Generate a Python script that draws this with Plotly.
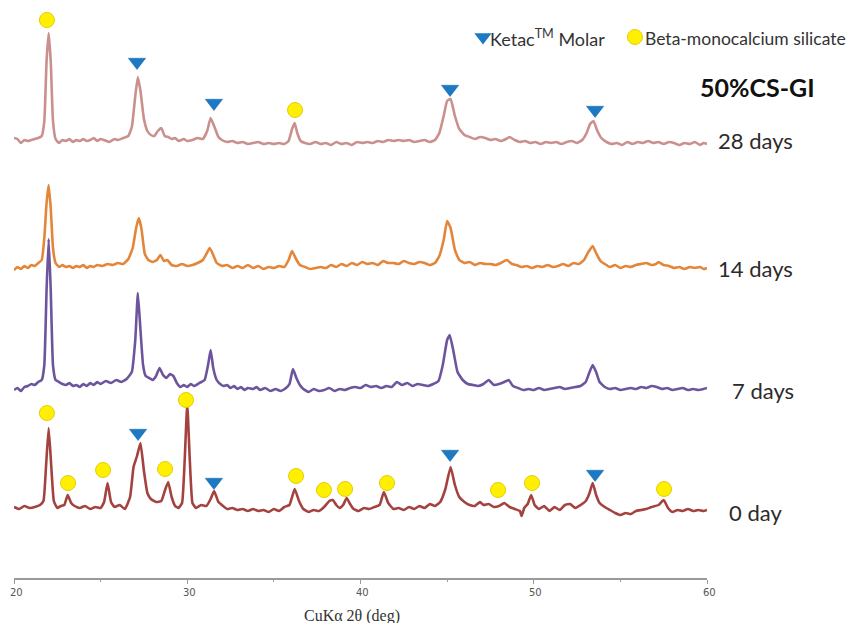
import plotly.graph_objects as go

# ---------------- data (2-theta in degrees, intensity in arbitrary units) ----------------
day0_x = [20.0, 20.3, 20.6, 20.9, 21.2, 21.5, 21.7, 21.85, 22.0, 22.15, 22.3, 22.5, 22.7, 22.9, 23.1, 23.3, 23.5, 23.8,
          24.1, 24.4, 24.7, 25.0, 25.2, 25.4, 25.6, 25.8, 26.1, 26.4, 26.7, 26.9, 27.1, 27.3, 27.5, 27.7, 27.9, 28.2,
          28.5, 28.7, 28.9, 29.1, 29.3, 29.5, 29.7, 29.85, 30.0, 30.15, 30.3, 30.5, 30.8, 31.1, 31.35, 31.55, 31.8,
          32.0, 32.3, 32.6, 32.9, 33.2, 33.5, 33.8, 34.1, 34.4, 34.7, 35.0, 35.3, 35.6, 35.9, 36.2, 36.45, 36.7, 37.0,
          37.3, 37.6, 37.9, 38.2, 38.4, 38.6, 38.8, 39.0, 39.2, 39.4, 39.6, 39.9, 40.2, 40.5, 40.8, 41.1, 41.35, 41.6,
          41.9, 42.2, 42.5, 42.8, 43.1, 43.4, 43.7, 44.0, 44.3, 44.6, 44.9, 45.2, 45.45, 45.7, 46.0, 46.3, 46.6, 46.9,
          47.1, 47.4, 47.7, 48.0, 48.3, 48.6, 48.9, 49.2, 49.3, 49.45, 49.65, 49.85, 50.05, 50.3, 50.6, 50.9, 51.2,
          51.5, 51.8, 52.1, 52.4, 52.7, 53.0, 53.2, 53.4, 53.6, 53.8, 54.1, 54.4, 54.7, 55.0, 55.3, 55.6, 55.9, 56.2,
          56.5, 56.8, 57.2, 57.5, 57.75, 58.0, 58.3, 58.6, 58.9, 59.2, 59.5, 59.8, 60.0]
day0_y = [4, 2, 5, 3, 4, 6, 10, 45, 83, 45, 10, 3, 5, 6, 16, 8, 5, 3,
          5, 2, 4, 3, 9, 28, 9, 4, 6, 2, 14, 44, 55, 68, 40, 18, 12, 9,
          10, 20, 29, 14, 5, 3, 8, 50, 107, 50, 8, 3, 6, 5, 12, 20, 9,
          6, 2, 3, 1, 2, 0, 2, 0, 1, -1, 2, 0, 4, 6, 22, 10, 2, -1,
          1, 0, 4, 10, 11, 6, 3, 6, 13, 7, 2, 0, 3, 2, 4, 6, 19, 8,
          2, 3, 1, 4, 2, 5, 3, 7, 5, 9, 22, 44, 26, 14, 9, 6, 5, 9,
          6, 7, 4, 5, 8, 4, 2, 0, -5, 3, 7, 16, 6, 2, 5, 0, 4,
          1, 6, 7, 3, 6, 10, 17, 28, 16, 8, 4, 1, -2, -4, -2, -3, 0, 1,
          2, 4, 6, 11, 3, -1, 1, 0, 2, 0, 1, 0, 1]

day7_x = [20.0, 20.2, 20.4, 20.6, 20.8, 21.0, 21.2, 21.4, 21.6, 21.75, 21.88, 22.0, 22.12, 22.25, 22.4, 22.6, 22.8,
          23.0, 23.2, 23.4, 23.6, 23.8, 24.0, 24.2, 24.4, 24.6, 24.8, 25.0, 25.3, 25.6, 25.9, 26.2, 26.5, 26.8, 27.0,
          27.15, 27.3, 27.45, 27.6, 27.8, 28.0, 28.2, 28.4, 28.6, 28.8, 29.0, 29.2, 29.4, 29.6, 29.8, 30.0, 30.2,
          30.4, 30.7, 31.0, 31.2, 31.35, 31.5, 31.7, 31.9, 32.1, 32.3, 32.5, 32.7, 32.9, 33.1, 33.3, 33.5, 33.8, 34.0,
          34.2, 34.5, 34.8, 35.1, 35.4, 35.7, 35.9, 36.1, 36.3, 36.5, 36.7, 37.0, 37.3, 37.6, 37.9, 38.2, 38.5, 38.8,
          39.1, 39.4, 39.7, 40.0, 40.3, 40.6, 40.9, 41.2, 41.5, 41.8, 42.1, 42.4, 42.7, 43.0, 43.3, 43.6, 43.9, 44.2,
          44.5, 44.75, 45.0, 45.15, 45.35, 45.6, 45.9, 46.2, 46.5, 46.8, 47.1, 47.4, 47.7, 48.0, 48.3, 48.55, 48.8,
          49.1, 49.4, 49.7, 50.0, 50.3, 50.6, 50.9, 51.2, 51.5, 51.8, 52.1, 52.4, 52.7, 53.0, 53.2, 53.4, 53.6, 53.8,
          54.1, 54.4, 54.7, 55.0, 55.3, 55.6, 55.9, 56.2, 56.5, 56.8, 57.1, 57.4, 57.7, 58.0, 58.3, 58.6, 58.9, 59.2,
          59.5, 59.8, 60.0]
day7_y = [0, 2, -1, 3, 4, 6, 5, 8, 10, 25, 100, 151, 100, 25, 10, 8, 6,
          5, 7, 4, 5, 3, 6, 4, 7, 5, 8, 6, 9, 7, 10, 8, 11, 18, 50,
          97, 60, 25, 14, 12, 10, 14, 22, 15, 12, 16, 14, 7, 3, 5, 3, 6,
          4, 7, 10, 25, 40, 22, 10, 6, 4, 5, 2, 4, 1, 3, 0, 2, 1, 3,
          0, 2, -1, 1, -1, 2, 6, 21, 12, 5, 1, -2, 1, -1, 0, 2, -1, 1,
          0, 2, 3, 2, 5, 3, 4, 2, 4, 3, 8, 5, 7, 4, 6, 5, 4, 6,
          9, 25, 50, 55, 40, 18, 10, 6, 5, 4, 6, 10, 5, 6, 8, 10, 4,
          2, 0, 1, 0, 2, 0, 1, 2, 3, 1, 2, 3, 4, 8, 17, 25, 18, 8,
          3, 1, 2, 0, 1, 2, 1, 3, 2, 4, 3, 1, 2, 0, 1, 2, 0, 1,
          0, 1, 2]

day14_x = [20.0, 20.2, 20.4, 20.6, 20.8, 21.0, 21.2, 21.4, 21.6, 21.75, 21.88, 22.0, 22.12, 22.25, 22.4, 22.6, 22.8,
           23.0, 23.2, 23.4, 23.6, 23.8, 24.0, 24.2, 24.4, 24.6, 24.8, 25.1, 25.4, 25.7, 26.0, 26.3, 26.6, 26.85,
           27.05, 27.2, 27.35, 27.55, 27.75, 28.0, 28.25, 28.45, 28.65, 28.85, 29.1, 29.4, 29.7, 30.0, 30.3, 30.6,
           30.9, 31.1, 31.3, 31.5, 31.7, 32.0, 32.3, 32.6, 32.9, 33.2, 33.5, 33.8, 34.1, 34.4, 34.7, 35.0, 35.3, 35.6,
           35.85, 36.05, 36.25, 36.5, 36.8, 37.1, 37.4, 37.7, 38.0, 38.3, 38.6, 38.9, 39.2, 39.5, 39.8, 40.1, 40.4,
           40.7, 41.0, 41.3, 41.6, 41.9, 42.2, 42.5, 42.8, 43.1, 43.4, 43.7, 44.0, 44.3, 44.55, 44.8, 45.0, 45.2,
           45.45, 45.7, 46.0, 46.3, 46.6, 46.9, 47.2, 47.5, 47.8, 48.1, 48.45, 48.75, 49.0, 49.3, 49.6, 49.9, 50.2,
           50.5, 50.8, 51.1, 51.4, 51.7, 52.0, 52.3, 52.6, 52.9, 53.15, 53.4, 53.6, 53.85, 54.1, 54.4, 54.7, 55.0,
           55.3, 55.6, 55.9, 56.2, 56.5, 56.8, 57.05, 57.2, 57.5, 57.8, 58.1, 58.4, 58.7, 59.0, 59.3, 59.6, 59.8, 60.0]
day14_y = [-2, 1, -1, 2, 0, 3, 2, 5, 8, 30, 65, 83, 60, 20, 5, 1, 3,
           1, 2, 0, 2, 1, 3, 0, 2, 1, 3, 2, 4, 3, 5, 4, 9, 20,
           40, 50, 40, 14, 8, 6, 8, 13, 7, 8, 3, 2, 4, 2, 3, 5,
           8, 14, 20, 13, 5, 2, 3, 0, 2, 0, 3, 0, 2, -1, 1, 0, 2, 1,
           8, 17, 10, 3, 1, -1, 0, 1, 0, 3, 1, 4, 2, 5, 3, 6, 4,
           5, 3, 7, 5, 5, 4, 7, 5, 4, 6, 5, 3, 5, 12, 28, 47, 40,
           18, 8, 5, 6, 3, 5, 4, 4, 3, 5, 8, 4, 3, 1, 2, 0, 2,
           1, 3, 1, 2, 4, 2, 5, 4, 8, 16, 22, 15, 7, 4, 1, 3, 0,
           2, 1, 3, 4, 5, 3, 4, 6, 3, 2, 0, 1, -1, 1, 0, 1, -1, 0]

day28_x = [20.0, 20.2, 20.4, 20.6, 20.8, 21.0, 21.2, 21.4, 21.6, 21.75, 21.88, 22.0, 22.12, 22.25, 22.4, 22.6, 22.8,
           23.0, 23.2, 23.4, 23.6, 23.8, 24.0, 24.2, 24.4, 24.6, 24.8, 25.0, 25.2, 25.5, 25.8, 26.0, 26.3, 26.6, 26.8,
           27.0, 27.15, 27.3, 27.5, 27.7, 27.9, 28.1, 28.3, 28.5, 28.7, 28.9, 29.1, 29.3, 29.5, 29.8, 30.0, 30.3,
           30.6, 30.9, 31.15, 31.35, 31.55, 31.8, 32.0, 32.3, 32.6, 32.9, 33.2, 33.5, 33.8, 34.1, 34.4, 34.7, 35.0,
           35.3, 35.6, 35.85, 36.05, 36.2, 36.35, 36.55, 36.8, 37.1, 37.4, 37.7, 38.0, 38.3, 38.6, 38.9, 39.2, 39.5,
           39.8, 40.1, 40.4, 40.7, 41.0, 41.3, 41.6, 41.9, 42.2, 42.5, 42.8, 43.1, 43.4, 43.7, 44.0, 44.3, 44.55,
           44.8, 45.0, 45.2, 45.45, 45.7, 46.0, 46.3, 46.6, 46.9, 47.2, 47.5, 47.8, 48.1, 48.4, 48.6, 48.9, 49.2,
           49.5, 49.8, 50.1, 50.4, 50.7, 51.0, 51.3, 51.6, 51.9, 52.2, 52.5, 52.8, 53.05, 53.25, 53.45, 53.65, 53.9,
           54.2, 54.5, 54.8, 55.1, 55.4, 55.7, 56.0, 56.3, 56.6, 56.9, 57.2, 57.5, 57.8, 58.1, 58.4, 58.7, 59.0, 59.3,
           59.6, 59.8, 60.0]
day28_y = [3, 2, -2, 1, 0, 1, 2, 3, 5, 20, 80, 108, 80, 20, 2, -2, 1,
           0, 2, -1, 1, 0, 2, 0, 1, 3, 0, 2, 1, -1, 2, 1, 3, 5, 14,
           45, 64, 50, 22, 10, 6, 5, 10, 13, 5, 4, 2, 3, 0, 2, 0, 1,
           3, 2, 10, 23, 15, 4, 1, -1, 0, -2, -1, -3, -2, -1, -3, -2, -3,
           -2, -3, 0, 12, 18, 8, 0, -2, -3, -1, -3, -2, -4, -1, -3, -2, -4,
           -1, -2, -1, -2, 0, -1, 1, 0, 1, 0, 1, -1, 0, 1, -1, 1, 8,
           25, 40, 42, 25, 12, 6, 4, 2, 4, 3, 1, 2, 0, 2, 4, 1, -1,
           0, -2, -1, -3, -1, -2, -1, -3, -1, 0, -2, 1, 8, 17, 20, 11, 3,
           -1, -3, -2, -4, -1, -3, -1, -2, 0, -2, -1, -3, -1, -2, -4, -2, -3, -1,
           -4, -2, -3]

series_names = ["0 day", "7 days", "14 days", "28 days"]
series_offsets = [67, 188, 310, 437]

# phase identification marks (2-theta, stacked height)
ketac_x = [27.16, 31.54, 45.17, 53.54, 27.10, 31.54, 45.17, 53.54]
ketac_y = [145, 96, 124, 104, 516, 475, 489, 468]
beta_x = [21.90, 23.12, 25.14, 28.72, 29.93, 36.28, 37.89, 39.11, 41.53, 47.94, 49.90, 57.52, 21.90, 36.22]
beta_y = [165, 95, 108, 109, 178, 102, 88, 89, 95, 88, 95, 89, 558, 468]

x_ticks = [20, 30, 40, 50, 60]
x_tick_labels = ["20", "30", "40", "50", "60"]

# ---------------- figure ----------------
# The page body has an 8px margin, so the figure is 848x615 and sits at (8, 8).
W, H = 848, 615
PL, PR, PT, PB = 6, 149, 0, 45          # plot area: x 6..699, y 0..570 (figure px)
PLOT_W, PLOT_H = W - PL - PR, H - PT - PB

colors = ["#A4423F", "#6D559E", "#E4863A", "#C9908D"]
xs = [day0_x, day7_x, day14_x, day28_x]
ys = [day0_y, day7_y, day14_y, day28_y]

fig = go.Figure()
for name, x, y, off, c in zip(series_names, xs, ys, series_offsets, colors):
    fig.add_trace(go.Scatter(x=x, y=[v + off for v in y], mode="lines", name=name,
                             line=dict(color=c, width=2.6, shape="spline", smoothing=0.4),
                             hoverinfo="skip"))

fig.add_trace(go.Scatter(x=ketac_x, y=ketac_y, mode="markers", name="Ketac Molar",
                         marker=dict(symbol="triangle-down", size=15, color="#1C79C4",
                                     line=dict(color="#1565A8", width=0.5))))
fig.add_trace(go.Scatter(x=beta_x, y=beta_y, mode="markers", name="Beta-monocalcium silicate",
                         marker=dict(symbol="circle", size=15, color="#FFF000",
                                     line=dict(color="#E3CF00", width=1))))

# legend symbols at the top
fig.add_trace(go.Scatter(x=[47.07], y=[541], mode="markers", name="legend-ketac",
                         marker=dict(symbol="triangle-down", size=15, color="#1C79C4")))
fig.add_trace(go.Scatter(x=[55.84], y=[541], mode="markers", name="legend-beta",
                         marker=dict(symbol="circle", size=15, color="#FFF000",
                                     line=dict(color="#E3CF00", width=1))))


def px2paper(px, py):
    """page pixel -> paper coords of the plot area"""
    return (px - 8 - PL) / PLOT_W, (PT + PLOT_H - (py - 8)) / PLOT_H


label_font = dict(family="Lato, 'Open Sans', sans-serif", size=22, color="#2b2b2b")
label_pos = [(755, 512), (763, 390), (755, 268), (755, 141)]
ann_list = []
for name, (px, py) in zip(series_names, label_pos):
    x, y = px2paper(px, py)
    ann_list.append(dict(x=x, y=y, xref="paper", yref="paper", xanchor="center", yanchor="middle",
                         text=name, showarrow=False, font=label_font))

x, y = px2paper(757, 87)
ann_list.append(dict(x=x, y=y, xref="paper", yref="paper", xanchor="center", yanchor="middle",
                     text="<b>50%CS-GI</b>", showarrow=False,
                     font=dict(family="Lato, 'Open Sans', sans-serif", size=25, color="#111111")))
x, y = px2paper(488, 38)
ann_list.append(dict(x=x, y=y, xref="paper", yref="paper", xanchor="left", yanchor="middle",
                     text="Ketac<sup>TM</sup> Molar", showarrow=False,
                     font=dict(family="Lato, 'Open Sans', sans-serif", size=18, color="#333333")))
x, y = px2paper(643, 38)
ann_list.append(dict(x=x, y=y, xref="paper", yref="paper", xanchor="left", yanchor="middle",
                     text="Beta-monocalcium silicate", showarrow=False,
                     font=dict(family="Lato, 'Open Sans', sans-serif", size=17.5, color="#333333")))
# x-axis title
x, y = px2paper(352, 616)
ann_list.append(dict(x=x, y=y, xref="paper", yref="paper", xanchor="center", yanchor="middle",
                     text="CuKα 2θ (deg)", showarrow=False, borderpad=0,
                     font=dict(family="'Liberation Serif', 'DejaVu Serif', serif", size=16, color="#333333")))
# x tick labels
for tv, tl in zip(x_ticks, x_tick_labels):
    _, y = px2paper(0, 592)
    ann_list.append(dict(x=tv, y=y, xref="x", yref="paper", xanchor="center", yanchor="middle",
                         xshift=2, text=tl, showarrow=False, borderpad=0,
                         font=dict(family="DejaVu Sans", size=10, color="#555555")))

fig.update_layout(
    width=W, height=H,
    margin=dict(l=PL, r=PR, t=PT, b=PB, autoexpand=False),
    paper_bgcolor="white", plot_bgcolor="white",
    showlegend=False,
    xaxis=dict(range=[20, 60], tickvals=x_ticks, showticklabels=False,
               showgrid=False, zeroline=False, showline=True, linecolor="#9a9a9a", linewidth=1.5,
               ticks="outside", ticklen=4, tickcolor="#9a9a9a",
               minor=dict(tickvals=[25, 35, 45, 55], ticks="outside", ticklen=2, tickcolor="#9a9a9a")),
    yaxis=dict(range=[0, 570], visible=False, fixedrange=True),
    annotations=ann_list,
)

fig.write_html("out.html")
